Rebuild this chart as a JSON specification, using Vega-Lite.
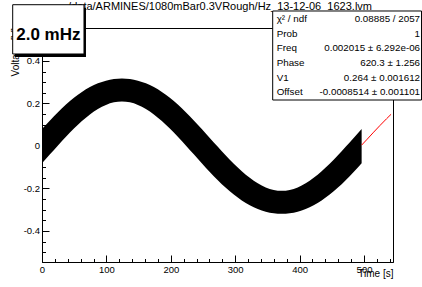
{
  "$schema": "https://vega.github.io/schema/vega-lite/v6.json",
  "width": 351,
  "height": 234,
  "autosize": {"type": "none"},
  "padding": {"left": 42, "top": 28, "right": 29, "bottom": 25},
  "background": "white",
  "config": {
    "view": {"stroke": "black", "strokeWidth": 1},
    "font": "Liberation Sans",
    "axis": {
      "grid": false, "zindex": 0, "domainColor": "black", "tickColor": "black", "labelColor": "black",
      "labelFont": "Liberation Sans", "labelFontSize": 9.5,
      "labelFlush": false, "labelOverlap": false, "labelBound": false,
      "titleFont": "Liberation Sans", "titleFontSize": 10, "titleFontWeight": "normal", "titleColor": "black"
    }
  },
  "resolve": {"axis": {"x": "independent", "y": "independent"}},
  "datasets": {
    "band": [
      {"t": 0, "lo": -0.0813, "hi": 0.0795},
      {"t": 12.4, "lo": -0.0395, "hi": 0.1203},
      {"t": 24.8, "lo": 0.0024, "hi": 0.159},
      {"t": 37.2, "lo": 0.0433, "hi": 0.1947},
      {"t": 49.6, "lo": 0.0819, "hi": 0.2267},
      {"t": 62.0, "lo": 0.1173, "hi": 0.2543},
      {"t": 74.4, "lo": 0.1483, "hi": 0.2771},
      {"t": 86.8, "lo": 0.1739, "hi": 0.2947},
      {"t": 99.3, "lo": 0.1931, "hi": 0.3073},
      {"t": 111.7, "lo": 0.2051, "hi": 0.3147},
      {"t": 124.1, "lo": 0.2091, "hi": 0.3171},
      {"t": 136.5, "lo": 0.2051, "hi": 0.3147},
      {"t": 148.9, "lo": 0.1931, "hi": 0.3073},
      {"t": 161.3, "lo": 0.1739, "hi": 0.2947},
      {"t": 173.7, "lo": 0.1483, "hi": 0.2771},
      {"t": 186.1, "lo": 0.1173, "hi": 0.2543},
      {"t": 198.5, "lo": 0.0819, "hi": 0.2267},
      {"t": 210.9, "lo": 0.0433, "hi": 0.1947},
      {"t": 223.3, "lo": 0.0024, "hi": 0.159},
      {"t": 235.7, "lo": -0.0395, "hi": 0.1203},
      {"t": 248.1, "lo": -0.0813, "hi": 0.0795},
      {"t": 260.5, "lo": -0.1221, "hi": 0.0377},
      {"t": 273.0, "lo": -0.1608, "hi": -0.0042},
      {"t": 285.4, "lo": -0.1965, "hi": -0.0451},
      {"t": 297.8, "lo": -0.2285, "hi": -0.0837},
      {"t": 310.2, "lo": -0.2561, "hi": -0.1191},
      {"t": 322.6, "lo": -0.2789, "hi": -0.1501},
      {"t": 335.0, "lo": -0.2965, "hi": -0.1757},
      {"t": 347.4, "lo": -0.3091, "hi": -0.1949},
      {"t": 359.8, "lo": -0.3165, "hi": -0.2069},
      {"t": 372.2, "lo": -0.3189, "hi": -0.2109},
      {"t": 384.6, "lo": -0.3165, "hi": -0.2069},
      {"t": 397.0, "lo": -0.3091, "hi": -0.1949},
      {"t": 409.4, "lo": -0.2965, "hi": -0.1757},
      {"t": 421.8, "lo": -0.2789, "hi": -0.1501},
      {"t": 434.2, "lo": -0.2561, "hi": -0.1191},
      {"t": 446.7, "lo": -0.2285, "hi": -0.0837},
      {"t": 459.1, "lo": -0.1965, "hi": -0.0451},
      {"t": 471.5, "lo": -0.1608, "hi": -0.0042},
      {"t": 483.9, "lo": -0.1221, "hi": 0.0377},
      {"t": 496.3, "lo": -0.0813, "hi": 0.0795}
    ],
    "fit": [
      {"t": 496.3, "v": 0.004},
      {"t": 505, "v": 0.032},
      {"t": 515, "v": 0.065},
      {"t": 525, "v": 0.097},
      {"t": 535, "v": 0.128},
      {"t": 542, "v": 0.149}
    ],
    "stats": [
      {"names": ["χ² / ndf", "Prob", "Freq", "Phase", "V1", "Offset"],
       "vals": ["0.08885 / 2057", "1", "0.002015 ± 6.292e-06", "620.3 ± 1.256", "0.264 ± 0.001612", "-0.0008514 ± 0.001101"]}
    ]
  },
  "layer": [
    {
      "data": {"name": "band"},
      "mark": {"type": "area", "color": "black", "interpolate": "monotone", "clip": true},
      "encoding": {
        "x": {
          "field": "t", "type": "quantitative",
          "scale": {"domain": [0, 545], "nice": false, "zero": false},
          "axis": {
            "orient": "bottom",
            "title": "Time [s]",
            "values": [0, 100, 200, 300, 400, 500],
            "format": "d",
            "tickSize": -7,
            "labelPadding": 9,
            "titleAnchor": "end", "titleAlign": "right", "titleBaseline": "alphabetic",
            "titleX": 351, "titleY": 14
          }
        },
        "y": {
          "field": "hi", "type": "quantitative",
          "scale": {"domain": [-0.546, 0.555], "nice": false, "zero": false},
          "axis": {
            "orient": "left",
            "title": null,
            "values": [-0.4, -0.2, 0, 0.2, 0.4],
            "labelExpr": "'' + datum.value",
            "tickSize": -7,
            "labelPadding": 9.5
          }
        },
        "y2": {"field": "lo"}
      }
    },
    {
      "data": {"name": "fit"},
      "mark": {"type": "line", "color": "#ff0000", "strokeWidth": 1, "clip": true},
      "encoding": {
        "x": {
          "field": "t", "type": "quantitative",
          "axis": {
            "orient": "bottom", "title": null, "labels": false, "domain": false,
            "values": [20,40,60,80,120,140,160,180,220,240,260,280,320,340,360,380,420,440,460,480,520,540],
            "tickSize": -3.5
          }
        },
        "y": {
          "field": "v", "type": "quantitative",
          "axis": {
            "orient": "left", "title": null, "labels": false, "domain": false,
            "values": [-0.5,-0.45,-0.35,-0.3,-0.25,-0.15,-0.1,-0.05,0.05,0.1,0.15,0.25,0.3,0.35,0.45,0.5,0.55],
            "tickSize": -3.5
          }
        }
      }
    },
    {
      "data": {"values": [{"ytitle": "Voltage [V]"}]},
      "mark": {"type": "text", "align": "right", "baseline": "middle", "angle": 270, "fontSize": 10, "font": "Liberation Sans", "color": "black", "clip": false},
      "encoding": {
        "x": {"datum": -40.4, "type": "quantitative", "axis": null},
        "y": {"datum": 0.555, "type": "quantitative", "axis": null},
        "text": {"field": "ytitle", "type": "nominal"}
      }
    },
    {
      "data": {"values": [{"title": "/data/ARMINES/1080mBar0.3VRough/Hz_13-12-06_1623.lvm"}]},
      "mark": {"type": "text", "align": "right", "baseline": "alphabetic", "fontSize": 11, "font": "Liberation Sans", "color": "black", "clip": false},
      "encoding": {
        "x": {"datum": 512.4, "type": "quantitative", "axis": null},
        "y": {"datum": 0.6397, "type": "quantitative", "axis": null},
        "text": {"field": "title", "type": "nominal"}
      }
    },
    {
      "data": {"values": [{}]},
      "mark": {"type": "rect", "fill": "white", "stroke": "black", "strokeWidth": 1, "clip": false},
      "encoding": {
        "x": {"datum": 358.2, "type": "quantitative", "axis": null},
        "x2": {"datum": 589.3},
        "y": {"datum": 0.6350, "type": "quantitative", "axis": null},
        "y2": {"datum": 0.2162}
      }
    },
    {
      "data": {"name": "stats"},
      "mark": {"type": "text", "align": "left", "baseline": "alphabetic", "fontSize": 9.8, "lineHeight": 14.7, "font": "Liberation Sans", "color": "black", "clip": false},
      "encoding": {
        "x": {"datum": 364.4, "type": "quantitative", "axis": null},
        "y": {"datum": 0.5838, "type": "quantitative", "axis": null},
        "text": {"field": "names", "type": "nominal"}
      }
    },
    {
      "data": {"name": "stats"},
      "mark": {"type": "text", "align": "right", "baseline": "alphabetic", "fontSize": 9.8, "lineHeight": 14.7, "font": "Liberation Sans", "color": "black", "clip": false},
      "encoding": {
        "x": {"datum": 587, "type": "quantitative", "axis": null},
        "y": {"datum": 0.5838, "type": "quantitative", "axis": null},
        "text": {"field": "vals", "type": "nominal"}
      }
    },
    {
      "data": {"values": [{}]},
      "mark": {"type": "rect", "fill": "black", "clip": false},
      "encoding": {
        "x": {"datum": -42.4, "type": "quantitative", "axis": null},
        "x2": {"datum": 68.3},
        "y": {"datum": 0.6505, "type": "quantitative", "axis": null},
        "y2": {"datum": 0.4186}
      }
    },
    {
      "data": {"values": [{}]},
      "mark": {"type": "rect", "fill": "white", "stroke": "black", "strokeWidth": 1, "clip": false},
      "encoding": {
        "x": {"datum": -45.5, "type": "quantitative", "axis": null},
        "x2": {"datum": 65.2},
        "y": {"datum": 0.6646, "type": "quantitative", "axis": null},
        "y2": {"datum": 0.4327}
      }
    },
    {
      "data": {"values": [{"label": "2.0 mHz"}]},
      "mark": {"type": "text", "align": "center", "baseline": "alphabetic", "fontSize": 17, "fontWeight": "bold", "font": "Liberation Sans", "color": "black", "clip": false},
      "encoding": {
        "x": {"datum": 9.9, "type": "quantitative", "axis": null},
        "y": {"datum": 0.5, "type": "quantitative", "axis": null},
        "text": {"field": "label", "type": "nominal"}
      }
    }
  ]
}
